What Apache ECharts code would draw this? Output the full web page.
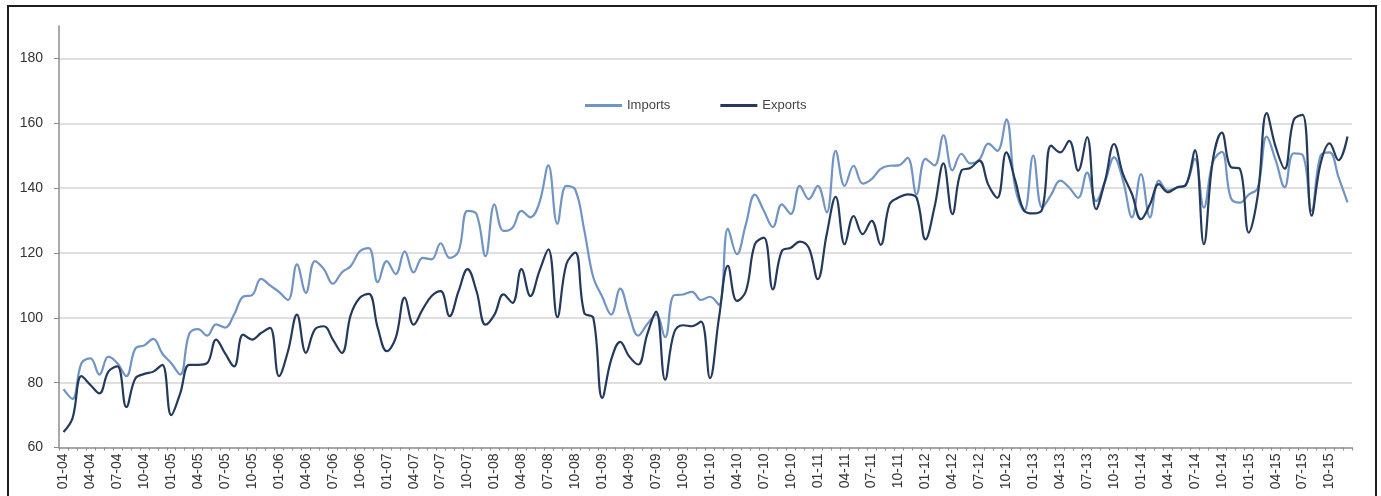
<!DOCTYPE html>
<html>
<head>
<meta charset="utf-8">
<script src="https://cdn.jsdelivr.net/npm/echarts@6/dist/echarts.min.js"></script>
<style>
  html, body { margin: 0; padding: 0; background: #ffffff; }
  #chart { width: 1381px; height: 496px; }
  #frame { position: absolute; left: 7px; top: 5px; width: 1366px; height: 520px; border: 2px solid #1e1e1e; pointer-events: none; box-sizing: content-box; }
</style>
</head>
<body>
<div id="chart"></div>
<div id="frame"></div>
<script>
const years = ['04','05','06','07','08','09','10','11','12','13','14','15'];
const months = ['01','02','03','04','05','06','07','08','09','10','11','12'];
const categories = [];
years.forEach(y => months.forEach(m => categories.push(m + '-' + y)));

const yTicks = [60, 80, 100, 120, 140, 160, 180];

const imports = [
  78, 75, 86, 87.5, 82.5, 88, 86, 82, 90.5, 91.5, 93.5, 89,
  86, 82.5, 95, 96.5, 94.5, 98, 97, 101, 106.5, 107, 112, 110,
  108, 105.5, 116.5, 107.7, 117.5, 115, 110.5, 114, 116, 120.5, 121.5, 111,
  117.5, 113.5, 120.5, 114, 118.5, 118, 123, 118.5, 120.5, 133, 132, 119,
  135, 126.8, 127.8, 133, 131, 135.5, 147, 129, 140.7, 139.5, 127, 112.5,
  106.5, 101, 109, 101, 94.5, 98, 101, 94, 107, 107.2, 108, 105.5,
  106.5, 104, 127.5, 119.6, 128.9, 138, 133, 128, 135, 132, 140.7, 136.6,
  140.7, 132.5, 151.5, 140.7, 146.9, 141.4, 142.8, 145.9, 146.9, 147, 149.3, 138.1,
  149, 147, 156.3, 145.5, 150.6, 147.6, 148.8, 153.7, 151.5, 161.2, 140, 133,
  150, 134, 138, 142.3, 140.2, 137, 144.8, 136, 142, 149.5, 142.3, 131,
  144.3, 131, 142.3, 139.2, 140.2, 141, 149, 134, 148, 151.2, 137, 135.5,
  138, 140, 155.9, 148.6, 140.3, 150.7, 150.2, 133, 150, 151, 143.4, 135.6
];

const exportsData = [
  64.8, 69, 82, 79.3, 76.7, 83.4, 85, 72.5, 81.3, 82.7, 83.4, 85.5,
  70, 76.7, 85.5, 85.5, 86, 93.3, 89, 85, 94.8, 93.3, 95.3, 96.9,
  82, 89.7, 101, 89.2, 96.4, 97.4, 93.3, 89.2, 101, 106.2, 107.4, 96.9,
  89.7, 93.8, 106.2, 97.9, 102.6, 106.7, 108.2, 100.5, 108.2, 115, 108.2, 97.9,
  101, 107.2, 104.6, 115, 106.7, 114.4, 121.1, 100.2, 116.5, 120.1, 101.5, 100,
  75.3, 87.1, 92.6, 88.1, 85.6, 94.8, 101.9, 80.9, 95.4, 97.7, 97.4, 98.8,
  81.4, 100, 116, 105.2, 108.2, 122.7, 124.7, 108.8, 120.6, 121.6, 123.5, 121.6,
  111.9, 125.8, 137.3, 122.7, 131.4, 125.8, 129.9, 122.5, 135, 137.1, 138.1, 137.1,
  124.2, 134.1, 147.6, 132, 145.4, 146.2, 148.5, 141, 137, 151, 142.3, 133,
  132.2, 133.5, 153.1, 151, 154.6, 145.4, 155.7, 133.5, 142.3, 153.6, 144.3, 138.1,
  130.4, 135, 141.2, 138.7, 140.2, 141, 151.7, 122.7, 148.6, 157.1, 146.5, 146,
  126.3, 137.7, 163.1, 152.7, 146, 161, 162.6, 131.5, 147.6, 153.8, 148.6, 155.9
];

const seriesNames = ['Imports', 'Exports'];
const colors = ['#7094c4', '#243a5c'];

const chart = echarts.init(document.getElementById('chart'), null, { renderer: 'canvas' });
chart.setOption({
  animation: false,
  backgroundColor: '#ffffff',
  grid: { left: 59, right: 29, top: 26, bottom: 48.5, containLabel: false },
  legend: {
    data: seriesNames,
    left: 580,
    top: 94,
    icon: 'rect',
    itemWidth: 37,
    itemHeight: 3,
    itemGap: 50,
    textStyle: { fontFamily: 'Liberation Sans, Arial, sans-serif', fontSize: 13, color: '#444' }
  },
  xAxis: {
    type: 'category',
    data: categories,
    boundaryGap: true,
    axisLine: { lineStyle: { color: '#8c8c8c', width: 1.5 } },
    axisTick: { show: true, interval: 0, length: 3, lineStyle: { color: '#8c8c8c' } },
    axisLabel: {
      interval: 2,
      rotate: 90,
      margin: 6,
      fontFamily: 'Liberation Sans, Arial, sans-serif',
      fontSize: 14,
      color: '#333'
    },
    splitLine: { show: false }
  },
  yAxis: {
    type: 'value',
    min: yTicks[0],
    max: 190,
    interval: 20,
    axisLine: { show: true, lineStyle: { color: '#8c8c8c', width: 1.5 } },
    axisTick: { show: true, length: 5, lineStyle: { color: '#8c8c8c' } },
    axisLabel: {
      margin: 16,
      fontFamily: 'Liberation Sans, Arial, sans-serif',
      fontSize: 14,
      color: '#333',
      showMaxLabel: false
    },
    splitLine: { show: true, showMaxLine: false, showMinLine: false, lineStyle: { color: '#d4d4d4', width: 1.5 } }
  },
  series: [
    {
      name: seriesNames[0],
      type: 'line',
      data: imports,
      smooth: 0.4,
      symbol: 'none',
      lineStyle: { color: colors[0], width: 2.2 },
      itemStyle: { color: colors[0] },
      z: 2
    },
    {
      name: seriesNames[1],
      type: 'line',
      data: exportsData,
      smooth: 0.4,
      symbol: 'none',
      lineStyle: { color: colors[1], width: 2.2 },
      itemStyle: { color: colors[1] },
      z: 3
    }
  ]
});
</script>
</body>
</html>
